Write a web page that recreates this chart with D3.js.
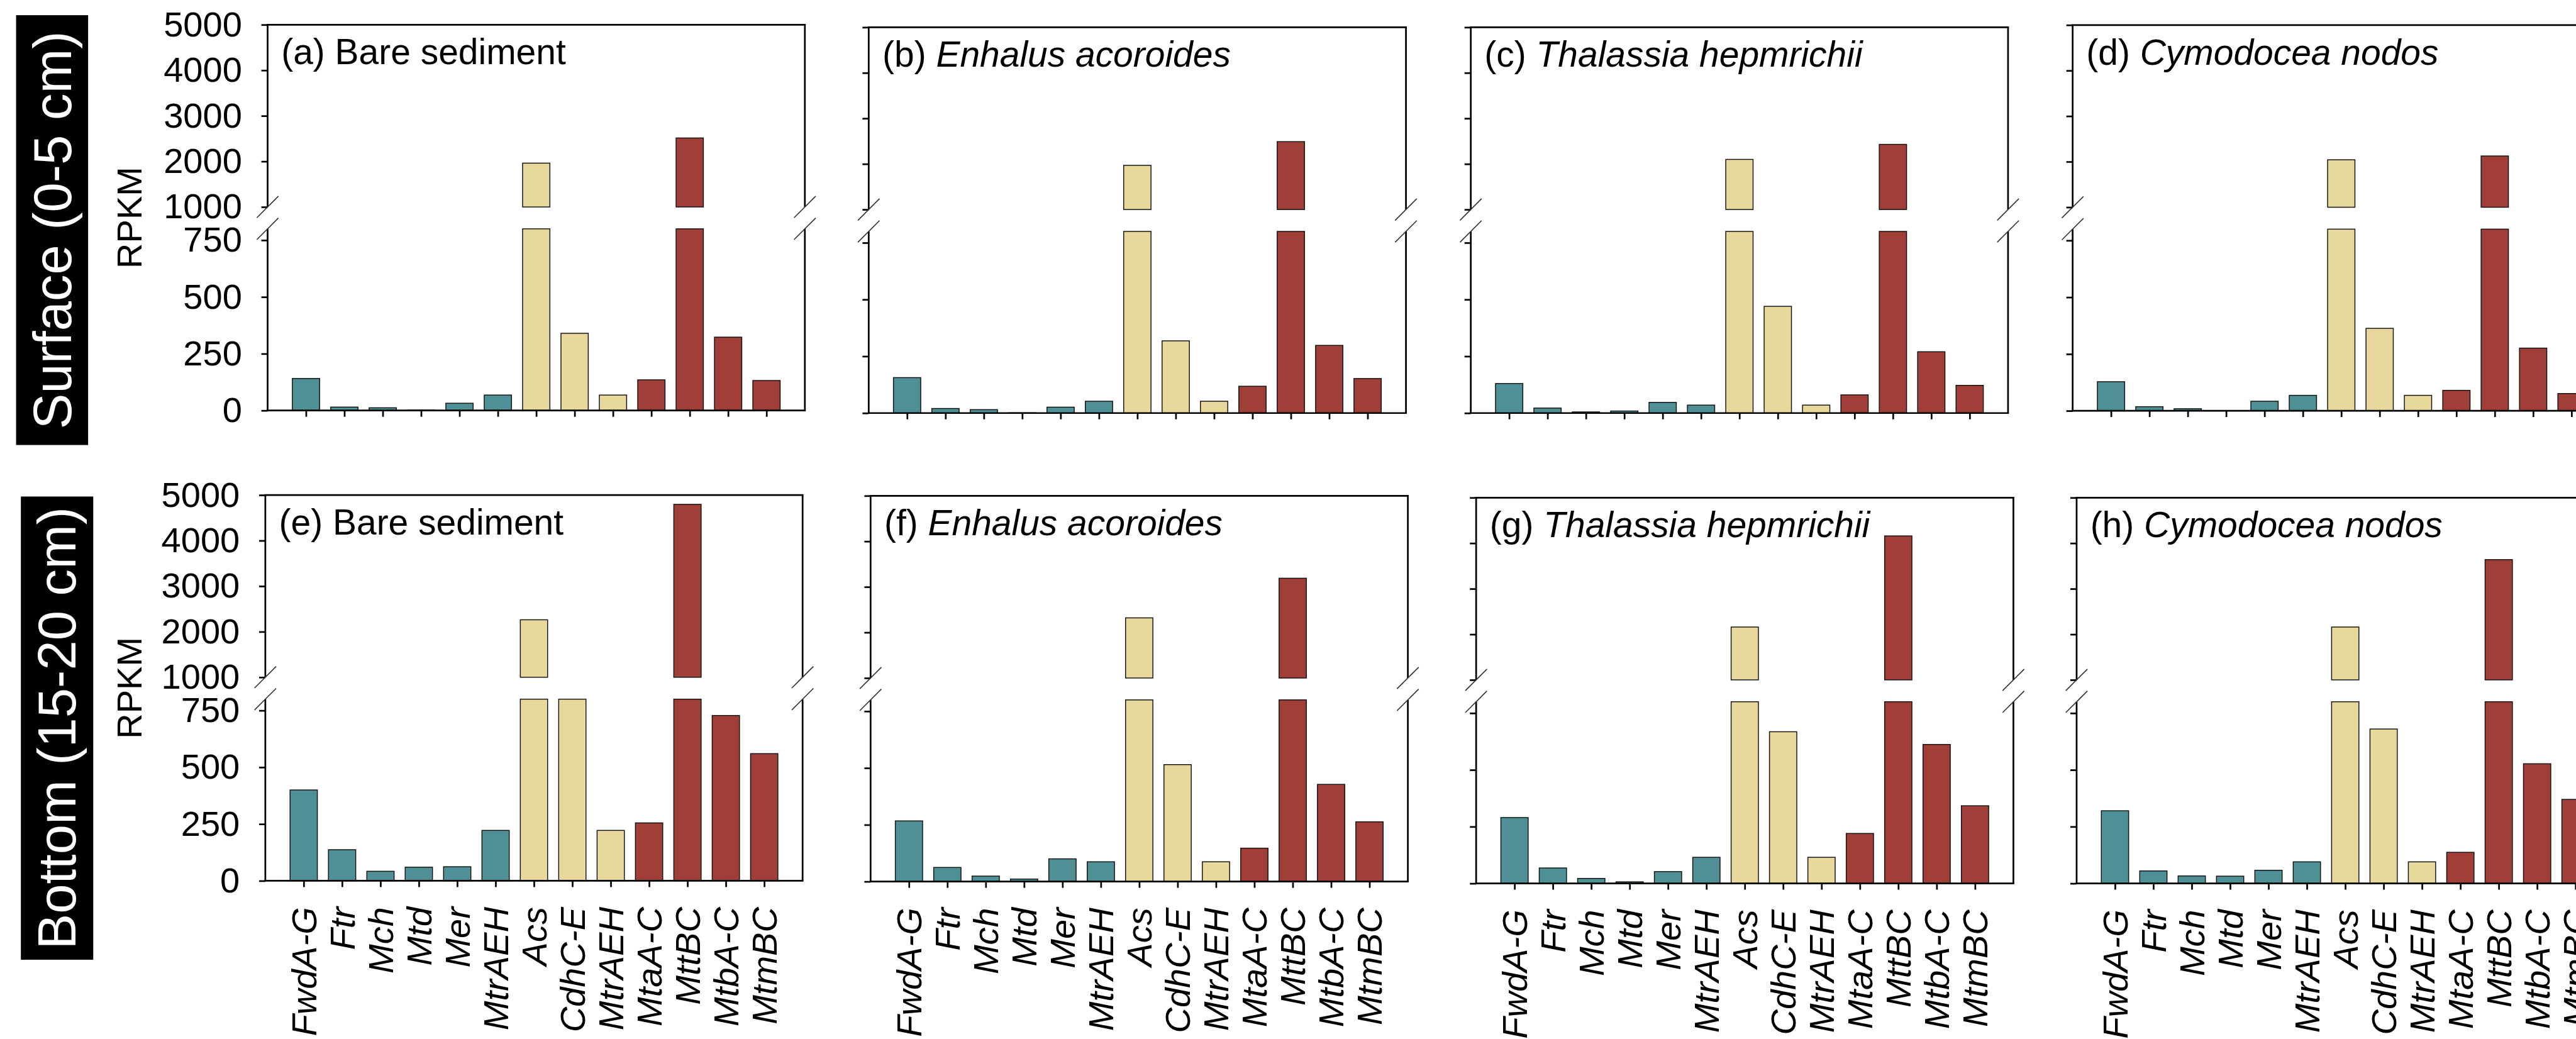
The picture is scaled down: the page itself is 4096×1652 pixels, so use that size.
<!DOCTYPE html>
<html>
<head>
<meta charset="utf-8">
<title>RPKM of methanogenesis genes</title>
<script src="https://cdn.jsdelivr.net/npm/d3@7/dist/d3.min.js"></script>
<style>
  html, body { margin: 0; padding: 0; background: #fff; }
  svg { display: block; }
  text { font-family: "Liberation Sans", Arial, sans-serif; }
</style>
</head>
<body>
<div id="chart"></div>
<script>

// genes on the x axis, and which pathway group each bar belongs to
var genes = ["FwdA-G", "Ftr", "Mch", "Mtd", "Mer", "MtrAEH", "Acs", "CdhC-E", "MtrAEH", "MtaA-C", "MttBC", "MtbA-C", "MtmBC"];
var geneGroup = ["h", "h", "h", "h", "h", "h", "a", "a", "a", "m", "m", "m", "m"];

// RPKM values, one array per panel
var bareSurface     = [141, 15, 12, 2, 32, 68, 1962, 340, 68, 135, 2514, 323, 132];
var enhalusSurface  = [156, 20, 15, 1, 26, 52, 1970, 318, 52, 118, 2490, 298, 152];
var thalSurface     = [130, 22, 5, 9, 47, 35, 2100, 470, 35, 80, 2430, 270, 122];
var cymoSurface     = [128, 18, 9, 1, 42, 68, 2042, 363, 68, 90, 2125, 276, 76];
var bareBottom      = [400, 137, 42, 60, 62, 222, 2262, 850, 222, 255, 4796, 728, 560];
var enhalusBottom   = [267, 62, 24, 11, 100, 87, 2320, 515, 87, 147, 3190, 428, 263];
var thalBottom      = [290, 68, 22, 7, 52, 115, 2160, 668, 115, 220, 4160, 612, 342];
var cymoBottom      = [320, 55, 33, 32, 58, 95, 2160, 680, 95, 137, 3640, 527, 370];

// panel titles
var panelLetters = ["(a)", "(b)", "(c)", "(d)", "(e)", "(f)", "(g)", "(h)"];
var panelNames = ["Bare sediment", "Enhalus acoroides", "Thalassia hepmrichii", "Cymodocea nodos",
                  "Bare sediment", "Enhalus acoroides", "Thalassia hepmrichii", "Cymodocea nodos"];
var panelValues = [bareSurface, enhalusSurface, thalSurface, cymoSurface,
                   bareBottom, enhalusBottom, thalBottom, cymoBottom];

// broken y axis ticks
var upperTicks = [1000, 2000, 3000, 4000, 5000];
var lowerTicks = [0, 250, 500, 750];
var rowLabels = ["Surface (0-5 cm)", "Bottom (15-20 cm)"];

var colors = { h: "#4F9097", a: "#E8D89B", m: "#A03F37" };

// everything below is laid out in reference pixels, then scaled down
var S = 0.904;
var W = 945, H = 678.5;
var panelPos = [[470.7, 43.5], [1528, 48], [2587, 48], [3645.6, 44],
                [466.7, 870.7], [1531.3, 872], [2596.4, 875.3], [3652.6, 875.3]];
var rowBoxes = [[28.3, 26.7, 126.7, 756], [36.7, 873.3, 127.3, 814.7]];

var svg = d3.select("#chart").append("svg")
  .attr("width", 4096)
  .attr("height", 1652);

var root = svg.append("g").attr("transform", "scale(" + S + ")");

var x = d3.scaleLinear().domain([0, 14]).range([0, W]);
var yLow = d3.scaleLinear().domain([0, 800]).range([H, 359]);
var yHigh = d3.scaleLinear().domain([1000, 5000]).range([320.5, 0]);
var barW = 48;

// row labels in black boxes
rowBoxes.forEach(function(b, i) {
  root.append("rect")
    .attr("x", b[0]).attr("y", b[1])
    .attr("width", b[2]).attr("height", b[3])
    .attr("fill", "#000");
  root.append("text")
    .attr("transform", "translate(" + (b[0] + b[2] / 2) + "," + (b[1] + b[3] / 2) + ") rotate(-90)")
    .attr("text-anchor", "middle")
    .attr("dy", "0.35em")
    .attr("fill", "#fff")
    .style("font-size", "94px")
    .text(rowLabels[i]);
});

panelValues.forEach(function(vals, p) {
  var pos = panelPos[p];
  var col = p % 4, row = Math.floor(p / 4);
  var g = root.append("g").attr("transform", "translate(" + pos[0] + "," + pos[1] + ")");

  // bars, split across the break
  var bars = g.append("g");
  vals.forEach(function(v, i) {
    var cx = x(i + 1);
    var fill = colors[geneGroup[i]];
    var low = Math.min(v, 800);
    bars.append("rect")
      .attr("x", cx - barW / 2)
      .attr("y", yLow(low))
      .attr("width", barW)
      .attr("height", H - yLow(low))
      .attr("fill", fill)
      .attr("stroke", "#111")
      .attr("stroke-width", 1.6);
    if (v > 1000) {
      bars.append("rect")
        .attr("x", cx - barW / 2)
        .attr("y", yHigh(v))
        .attr("width", barW)
        .attr("height", yHigh(1000) - yHigh(v))
        .attr("fill", fill)
        .attr("stroke", "#111")
        .attr("stroke-width", 1.6);
    }
  });

  // y axes (ticks only, the lines are drawn by hand)
  var showLabels = col === 0;
  var upAxis = d3.axisLeft(yHigh).tickValues(upperTicks).tickSize(11).tickPadding(34)
    .tickFormat(showLabels ? d3.format("d") : "");
  var lowAxis = d3.axisLeft(yLow).tickValues(lowerTicks).tickSize(11).tickPadding(34)
    .tickFormat(showLabels ? d3.format("d") : "");
  [upAxis, lowAxis].forEach(function(ax) {
    var a = g.append("g").call(ax);
    a.select(".domain").remove();
    a.selectAll("line").attr("stroke", "#000").attr("stroke-width", 3);
    a.selectAll("text").style("font-size", "62px").attr("fill", "#000");
  });

  var xAxis = d3.axisBottom(x).tickValues(d3.range(1, 14)).tickSize(11).tickFormat("");
  var xa = g.append("g").attr("transform", "translate(0," + H + ")").call(xAxis);
  xa.select(".domain").remove();
  xa.selectAll("line").attr("stroke", "#000").attr("stroke-width", 3);

  // frame with the break gap on both sides
  var frame = g.append("g").attr("stroke", "#000").attr("stroke-width", 3).attr("fill", "none");
  frame.append("line").attr("x1", -1.5).attr("x2", W + 1.5).attr("y1", 0).attr("y2", 0);
  frame.append("line").attr("x1", -1.5).attr("x2", W + 1.5).attr("y1", H).attr("y2", H);
  [0, W].forEach(function(sx) {
    frame.append("line").attr("x1", sx).attr("x2", sx).attr("y1", 0).attr("y2", yHigh(1000));
    frame.append("line").attr("x1", sx).attr("x2", sx).attr("y1", yLow(800)).attr("y2", H);
    [yHigh(1000), yLow(800)].forEach(function(sy) {
      g.append("line")
        .attr("x1", sx - 19).attr("y1", sy + 19)
        .attr("x2", sx + 19).attr("y2", sy - 19)
        .attr("stroke", "#333").attr("stroke-width", 1.8);
    });
  });

  // panel title
  var t = g.append("text")
    .attr("x", 24).attr("y", 69.5)
    .style("font-size", "63px")
    .attr("fill", "#000");
  t.append("tspan").text(panelLetters[p] + " ");
  t.append("tspan")
    .style("font-style", p % 4 === 0 ? "normal" : "italic")
    .text(panelNames[p]);

  // RPKM label on the left column
  if (col === 0) {
    root.append("text")
      .attr("transform", "translate(249," + (pos[1] + H / 2) + ") rotate(-90)")
      .attr("text-anchor", "middle")
      .style("font-size", "62px")
      .text("RPKM");
  }

  // gene names under the bottom row
  if (row === 1) {
    genes.forEach(function(name, i) {
      g.append("text")
        .attr("transform", "translate(" + x(i + 1) + "," + (H + 46) + ") rotate(-90)")
        .attr("text-anchor", "end")
        .attr("dy", "0.35em")
        .style("font-size", "62px")
        .style("font-style", "italic")
        .text(name);
    });
  }
});

</script>
</body>
</html>
